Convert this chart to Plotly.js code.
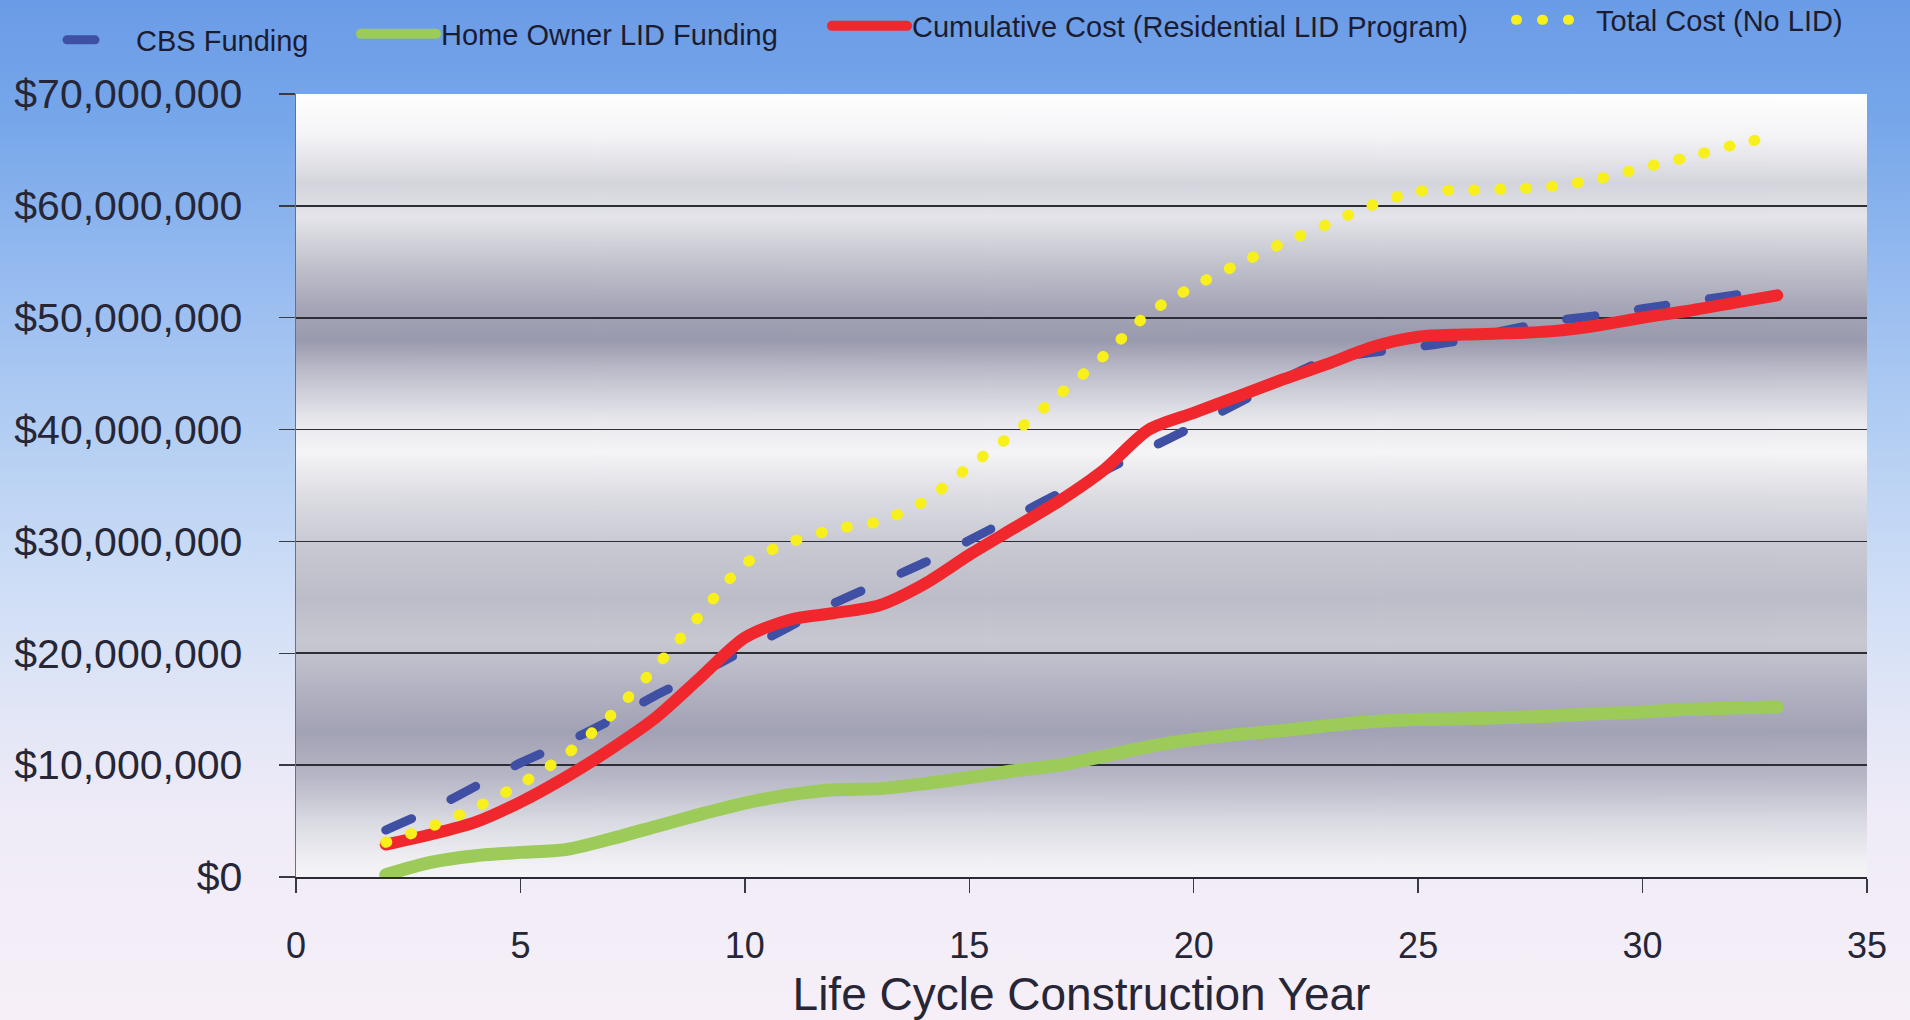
<!DOCTYPE html>
<html><head><meta charset="utf-8">
<script src="https://cdn.plot.ly/plotly-3.0.1.min.js"></script>
<style>
html,body{margin:0;padding:0;width:1910px;height:1020px;overflow:hidden;}
body{background:linear-gradient(to bottom,#6a9be6 0%,#77a7ea 12%,#98bcf0 28%,#b6d0f3 44%,#cfdef6 58%,#e2e6f6 70%,#efebf7 80%,#f6eff8 100%);}
#chart{width:1910px;height:1020px;}
.js-line{stroke-linecap:round;stroke-linejoin:round;}
</style></head><body><div id="chart"></div>
<script>
// Life cycle construction year
const years = [2,3,4,5,6,7,8,9,10,11,12,13,14,15,16,17,18,19,20,21,22,23,24,25,26,27,28,29,30,31,32,33];
// values in millions of dollars
const cbsFunding = [4.2,6.0,8.1,10.2,12.0,14.0,16.2,18.2,20.3,22.4,24.5,26.3,28.1,30.1,32.2,34.3,36.3,38.3,40.3,42.4,44.5,46.3,46.9,47.4,48.0,48.9,49.7,50.2,50.8,51.4,52.0,52.6];
const homeOwnerLID = [0.2,1.3,1.9,2.2,2.45,3.4,4.5,5.6,6.6,7.35,7.8,7.9,8.35,8.9,9.5,10.0,10.8,11.65,12.3,12.75,13.1,13.55,13.9,14.1,14.15,14.25,14.4,14.6,14.75,15.0,15.1,15.2];
const cumulativeCost = [2.9,3.8,4.9,6.7,8.9,11.4,14.2,17.8,21.4,23.0,23.6,24.3,26.2,28.8,31.2,33.6,36.4,40.0,41.5,43.0,44.5,45.9,47.4,48.3,48.5,48.6,48.8,49.3,50.0,50.6,51.3,52.0];
const totalCostNoLID = [3.1,4.5,6.2,8.3,10.9,14.4,18.7,23.4,28.0,29.9,31.1,31.8,33.6,36.7,39.7,43.1,46.6,50.4,52.8,54.8,56.7,58.4,60.1,61.3,61.4,61.5,61.75,62.4,63.4,64.35,65.4,66.3];
const seriesNames = ['CBS Funding','Home Owner LID Funding','Cumulative Cost (Residential LID Program)','Total Cost (No LID)'];
const xTitle = 'Life Cycle Construction Year';

const M = v => v.map(d => d * 1e6);

// plot-area banded background (vertical gradient), painted on a canvas
function bandImage(){
  const c = document.createElement('canvas'); c.width = 8; c.height = 700;
  const g = c.getContext('2d');
  const grad = g.createLinearGradient(0,0,0,700);
  const stops = [[70,'#ffffff'],[66,'#f3f3f6'],[62,'#d4d4dc'],[59,'#e4e4ea'],[55,'#c4c4ce'],[51,'#a6a6b8'],[48,'#9a9aae'],[45,'#bfbfcc'],[41,'#e6e6ec'],[38,'#f5f5f7'],[34,'#dcdce3'],[30,'#cacad4'],[25,'#bdbdc9'],[21,'#c8c8d2'],[17,'#b3b3c3'],[13,'#a2a2b5'],[9,'#b6b6c6'],[5,'#dadae2'],[1,'#f2f2f6'],[0,'#f4f4f7']];
  stops.forEach(s => grad.addColorStop((70 - s[0]) / 70, s[1]));
  g.fillStyle = grad; g.fillRect(0,0,8,700);
  return c.toDataURL('image/png');
}

const traces = [
  {x: years, y: M(cbsFunding), name: seriesNames[0], mode: 'lines', legend: 'legend',
   line: {color: '#3f4fa3', width: 9, dash: '28px,44px', shape: 'spline', smoothing: 0.8}},
  {x: years, y: M(homeOwnerLID), name: seriesNames[1], mode: 'lines', legend: 'legend2',
   line: {color: '#9ccb5a', width: 13, shape: 'spline', smoothing: 0.8}},
  {x: years, y: M(cumulativeCost), name: seriesNames[2], mode: 'lines', legend: 'legend3',
   line: {color: '#f0282e', width: 12, shape: 'spline', smoothing: 0.8}},
  {x: years, y: M(totalCostNoLID), name: seriesNames[3], mode: 'lines', legend: 'legend4',
   line: {color: '#f7f01c', width: 11, dash: '1px,25px', shape: 'spline', smoothing: 0.8}}
];

const legFont = {family: 'Arial, "Liberation Sans", sans-serif', size: 29, color: '#1c1c30'};
function leg(x, yPx, w){
  return {xref: 'container', yref: 'container', x: x / 1910, y: 1 - yPx / 1020,
          xanchor: 'left', yanchor: 'middle', orientation: 'h', bgcolor: 'rgba(0,0,0,0)',
          borderwidth: 0, font: legFont, itemwidth: w};
}

const layout = {
  width: 1910, height: 1020,
  margin: {l: 296, r: 43, t: 94, b: 143},
  paper_bgcolor: 'rgba(0,0,0,0)', plot_bgcolor: 'rgba(0,0,0,0)',
  font: {family: 'Arial, "Liberation Sans", sans-serif', color: '#262636'},
  showlegend: true,
  legend: leg(62, 40, 64), legend2: leg(356, 34, 75), legend3: leg(827, 26, 75), legend4: leg(1511, 20, 75),
  images: [{source: bandImage(), xref: 'paper', yref: 'paper', x: 0, y: 1, sizex: 1, sizey: 1,
            sizing: 'stretch', xanchor: 'left', yanchor: 'top', layer: 'below'}],
  xaxis: {range: [0, 35], dtick: 5, tick0: 0, showgrid: false, zeroline: false,
          showline: true, linecolor: '#2a2a30', linewidth: 2,
          ticks: 'outside', ticklen: 14, tickwidth: 1.5, tickcolor: '#3a3a44',
          ticklabelstandoff: 22,
          tickfont: {size: 36, color: '#262636'},
          title: {text: xTitle, font: {size: 46, color: '#262636'}, standoff: 14},
          automargin: false},
  yaxis: {range: [0, 70e6], dtick: 10e6, tick0: 0, tickprefix: '$', tickformat: ',.0f',
          showgrid: true, gridcolor: '#2e2e36', gridwidth: 1.8, zeroline: false,
          showline: true, linecolor: '#707078', linewidth: 1.5,
          ticks: 'outside', ticklen: 16, tickwidth: 1.5, tickcolor: '#3a3a44',
          ticklabelstandoff: 28,
          tickfont: {size: 41, color: '#262636'},
          automargin: false}
};

Plotly.newPlot('chart', traces, layout, {displayModeBar: false, staticPlot: true});
</script></body></html>
